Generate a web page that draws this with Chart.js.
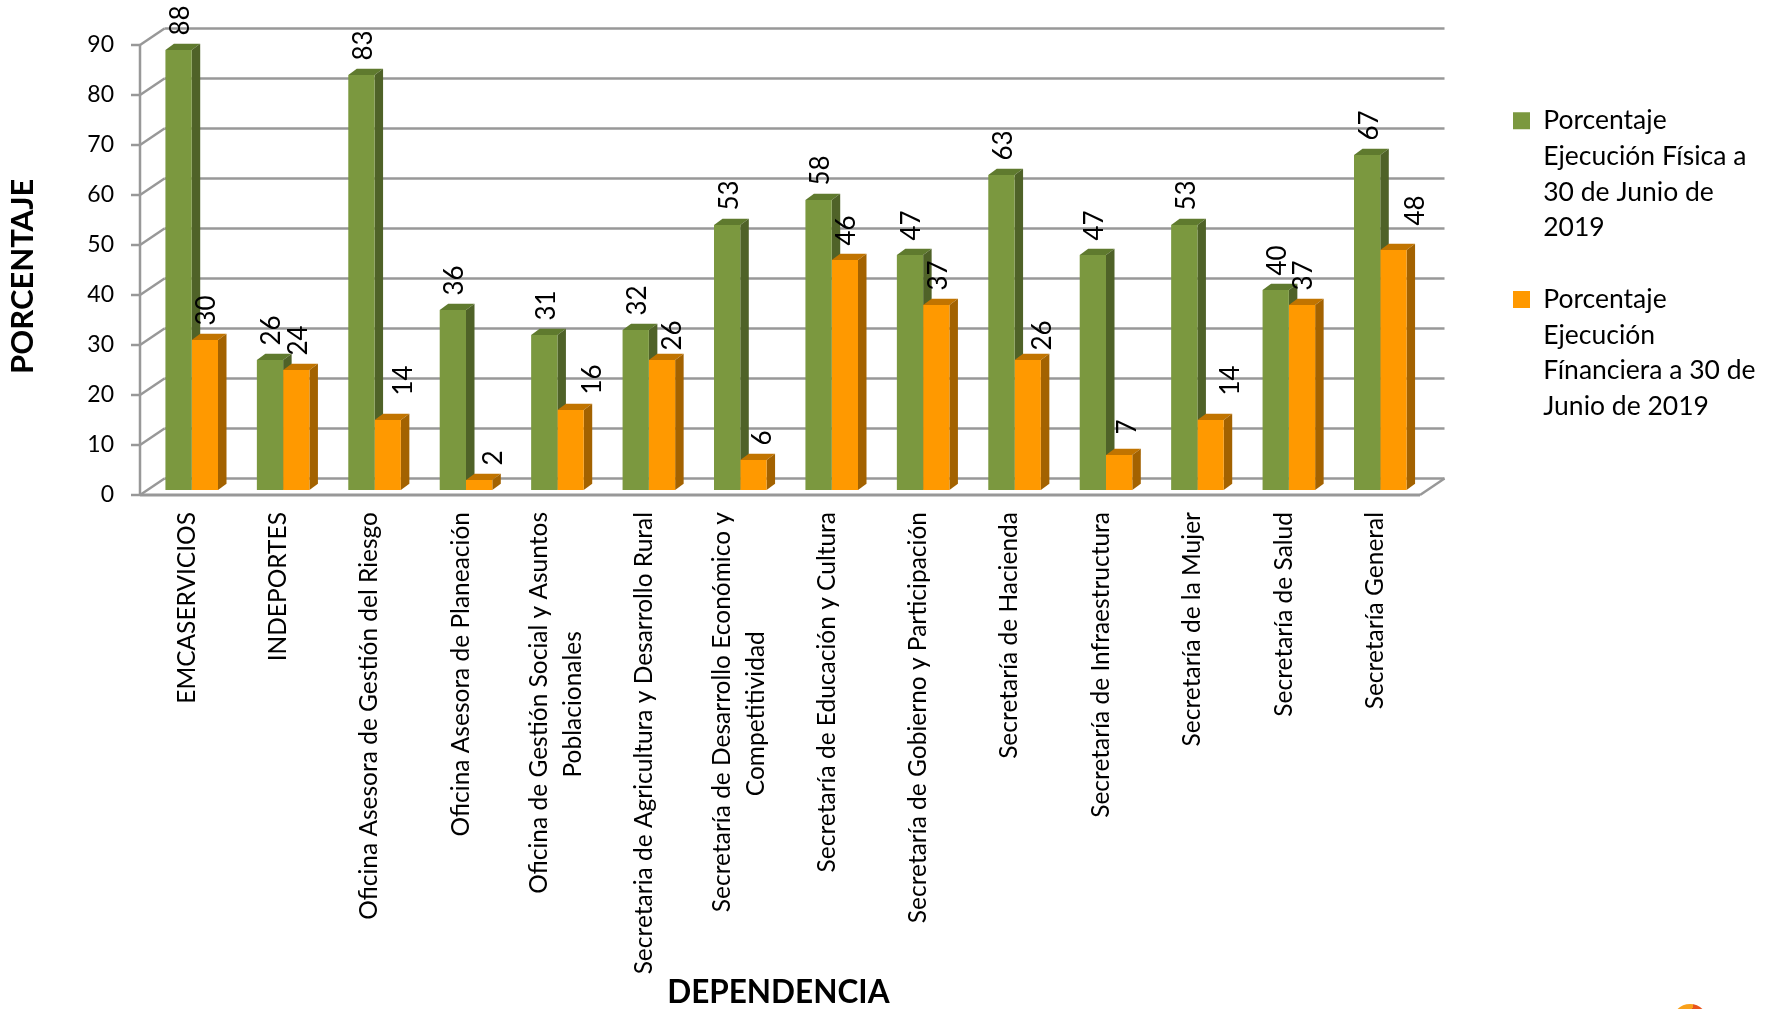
<!DOCTYPE html>
<html>
<head>
<meta charset="utf-8">
<title>Ejecución por dependencia</title>
<script src="https://cdn.jsdelivr.net/npm/chart.js@4"></script>
<style>
    html, body { margin: 0; padding: 0; background: #fff; overflow: hidden; }
    #wrap { position: relative; width: 1777px; height: 1009px; overflow: hidden; }
    #logo {
        position: absolute; left: 1672px; top: 1004px; width: 36px; height: 36px; border-radius: 50%;
        background: linear-gradient(100deg, #f9a11b 50%, #e8541e 50%);
    }
</style>
</head>
<body>
<div id="wrap">
    <canvas id="ejecucionChart" width="1777" height="1009"></canvas>
    <div id="logo"></div>
</div>
<script>
const categories = [
    "EMCASERVICIOS",
    "INDEPORTES",
    "Oficina Asesora de Gestión del Riesgo",
    "Oficina Asesora de Planeación",
    ["Oficina de Gestión Social y Asuntos", "Poblacionales"],
    "Secretaria de Agricultura y Desarrollo Rural",
    ["Secretaría de Desarrollo Económico y", "Competitividad"],
    "Secretaría de Educación y Cultura",
    "Secretaría de Gobierno y Participación",
    "Secretaría de Hacienda",
    "Secretaría de Infraestructura",
    "Secretaría de la Mujer",
    "Secretaría de Salud",
    "Secretaría General"
];
const ejecucionFisica = [88, 26, 83, 36, 31, 32, 53, 58, 47, 63, 47, 53, 40, 67];
const ejecucionFinanciera = [30, 24, 14, 2, 16, 26, 6, 46, 37, 26, 7, 14, 37, 48];
const legendFisica = ["Porcentaje", "Ejecución Física a", "30 de Junio de", "2019"];
const legendFinanciera = ["Porcentaje", "Ejecución", "Fínanciera a 30 de", "Junio de 2019"];
const yTicks = [0, 10, 20, 30, 40, 50, 60, 70, 80, 90];

// labels on the orange bars that were dragged away from the green ones in the original
const nudgeFinancieraX = [0, 0, 14, 12, 20, 9, 7, 0, 0, 13, 6, 18, 0, 20];
const nudgeFinancieraY = [0, 0, 10, 0, 1, -5, 0, 0, 0, -5, 6, 10, 0, 10];

const FONT = "Lato, sans-serif";
const PLOT_TOP = 40;

// fake 3D room behind the bars
const room = { frontX: -6, frontY: 5, backX: 18.5, backY: -11.5, tick: 9 };
const depth = { x: 8.5, y: 6.2 };

const shade = {
    "#7b983f": { side: "#4f6228", top: "#5f7a2e" },
    "#ff9900": { side: "#a36200", top: "#c17400" }
};

function line(ctx, x1, y1, x2, y2) {
    ctx.beginPath();
    ctx.moveTo(x1, y1);
    ctx.lineTo(x2, y2);
    ctx.stroke();
}

const roomPlugin = {
    id: "room",
    afterLayout(chart) {
        // layout leaves the plot too short with such a tall x axis, so stretch it back up
        const y = chart.scales.y;
        chart.chartArea.top = PLOT_TOP;
        chart.chartArea.height = chart.chartArea.bottom - PLOT_TOP;
        y.top = PLOT_TOP;
        y.height = y.bottom - PLOT_TOP;
        y.configure();
        y._labelItems = null;

        // legend sits in the free space on the right, not glued to the plot
        const legend = chart.legend;
        legend.left = 1477;
        legend.right = 1777;
        legend.top = 71.5;
        legend.bottom = 1009;

        // two-line labels sit further left than the single-line ones
        chart.scales.x.getLabelItems(chart.chartArea).forEach(item => {
            if (Array.isArray(item.label)) item.options.translation[0] -= 13;
        });
    },
    beforeDatasetsDraw(chart) {
        const { ctx, chartArea, scales } = chart;
        const y = scales.y;
        ctx.save();
        ctx.strokeStyle = "#989898";
        ctx.lineWidth = 2.5;
        yTicks.forEach(v => {
            const p = y.getPixelForValue(v);
            line(ctx, chartArea.left + room.backX, p + room.backY, chartArea.right + room.backX, p + room.backY);
            line(ctx, chartArea.left + room.frontX, p + room.frontY, chartArea.left + room.backX, p + room.backY);
            line(ctx, chartArea.left + room.frontX - room.tick, p + room.frontY, chartArea.left + room.frontX, p + room.frontY);
        });
        const top = y.getPixelForValue(90), zero = y.getPixelForValue(0);
        line(ctx, chartArea.left + room.frontX, top + room.frontY, chartArea.left + room.frontX, zero + room.frontY);
        ctx.lineWidth = 3;
        line(ctx, chartArea.left + room.frontX, zero + room.frontY, chartArea.right + room.frontX, zero + room.frontY);
        ctx.lineWidth = 2.5;
        line(ctx, chartArea.right + room.frontX, zero + room.frontY, chartArea.right + room.backX, zero + room.backY);

        // bar sides and tops go under the fronts the library draws
        chart.data.datasets.forEach((ds, d) => {
            const tone = shade[ds.backgroundColor];
            chart.getDatasetMeta(d).data.forEach(bar => {
                const left = bar.x - bar.width / 2, right = bar.x + bar.width / 2;
                ctx.fillStyle = tone.top;
                ctx.beginPath();
                ctx.moveTo(left, bar.y);
                ctx.lineTo(left + depth.x, bar.y - depth.y);
                ctx.lineTo(right + depth.x, bar.y - depth.y);
                ctx.lineTo(right, bar.y);
                ctx.closePath();
                ctx.fill();
                ctx.fillStyle = tone.side;
                ctx.beginPath();
                ctx.moveTo(right, bar.y);
                ctx.lineTo(right + depth.x, bar.y - depth.y);
                ctx.lineTo(right + depth.x, bar.base - depth.y);
                ctx.lineTo(right, bar.base);
                ctx.closePath();
                ctx.fill();
            });
        });
        ctx.restore();
    },
    afterDatasetsDraw(chart) {
        const { ctx } = chart;
        ctx.save();
        ctx.fillStyle = "#000";
        ctx.font = "26px " + FONT;
        ctx.textAlign = "left";
        ctx.textBaseline = "middle";
        chart.data.datasets.forEach((ds, d) => {
            chart.getDatasetMeta(d).data.forEach((bar, i) => {
                const dx = d === 1 ? nudgeFinancieraX[i] : 0;
                const dy = d === 1 ? nudgeFinancieraY[i] : 0;
                ctx.save();
                ctx.translate(bar.x + 2 + dx, bar.y - 14.5 - dy);
                ctx.rotate(-Math.PI / 2);
                ctx.fillText(String(ds.data[i]), 0, 0);
                ctx.restore();
            });
        });
        ctx.restore();
    }
};

// second line of a wrapped label is centred under the first one
const measure = document.createElement("canvas").getContext("2d");
function centredLabel(label) {
    if (!Array.isArray(label)) return label;
    measure.font = "24.5px " + FONT;
    const gap = measure.measureText(label[0]).width - measure.measureText(label[1]).width;
    const n = Math.round(gap / 2 / measure.measureText(" ").width);
    return [label[0], label[1] + " ".repeat(n)];
}

const ejecucionChart = new Chart(document.getElementById("ejecucionChart"), {
    type: "bar",
    data: {
        labels: categories,
        datasets: [
            {
                label: legendFisica,
                data: ejecucionFisica,
                backgroundColor: "#7b983f",
                categoryPercentage: 0.575,
                barPercentage: 1
            },
            {
                label: legendFinanciera,
                data: ejecucionFinanciera,
                backgroundColor: "#ff9900",
                categoryPercentage: 0.575,
                barPercentage: 1
            }
        ]
    },
    options: {
        responsive: false,
        animation: false,
        devicePixelRatio: 1,
        layout: { autoPadding: false, padding: { top: PLOT_TOP, right: 350, bottom: 0, left: 0 } },
        plugins: {
            tooltip: { enabled: false },
            legend: {
                position: "right",
                align: "start",
                maxWidth: 1,
                labels: {
                    boxWidth: 17,
                    boxHeight: 17,
                    padding: 36,
                    color: "#000",
                    font: { family: FONT, size: 26.5, lineHeight: 35.7 / 26.5 },
                    generateLabels(chart) {
                        return chart.data.datasets.map((ds, i) => ({
                            text: ds.label,
                            fillStyle: ds.backgroundColor,
                            strokeStyle: ds.backgroundColor,
                            lineWidth: 0,
                            hidden: false,
                            datasetIndex: i
                        }));
                    }
                }
            }
        },
        scales: {
            x: {
                afterFit(scale) { scale.height = 519; },
                grid: { display: false, drawTicks: false },
                border: { display: false },
                ticks: {
                    autoSkip: false,
                    minRotation: 90,
                    maxRotation: 90,
                    padding: 22,
                    labelOffset: -5,
                    color: "#000",
                    font: { family: FONT, size: 24.5, lineHeight: 34 / 24.5 },
                    callback(value) { return centredLabel(categories[value]); }
                },
                title: {
                    display: true,
                    text: "DEPENDENCIA  ",
                    color: "#000",
                    font: { family: FONT, size: 31.5, weight: "bold" },
                    padding: { top: 0, bottom: -3 }
                }
            },
            y: {
                min: 0,
                max: 90,
                afterFit(scale) { scale.width = 146; },
                grid: { display: false, drawTicks: false },
                border: { display: false },
                ticks: {
                    stepSize: 10,
                    padding: 32,
                    labelOffset: 5,
                    color: "#000",
                    font: { family: FONT, size: 23 }
                },
                title: {
                    display: true,
                    text: "PORCENTAJE   ",
                    color: "#000",
                    font: { family: FONT, size: 31, weight: "bold" },
                    padding: { top: 4, bottom: 0 }
                }
            }
        }
    },
    plugins: [roomPlugin]
});
</script>
</body>
</html>
